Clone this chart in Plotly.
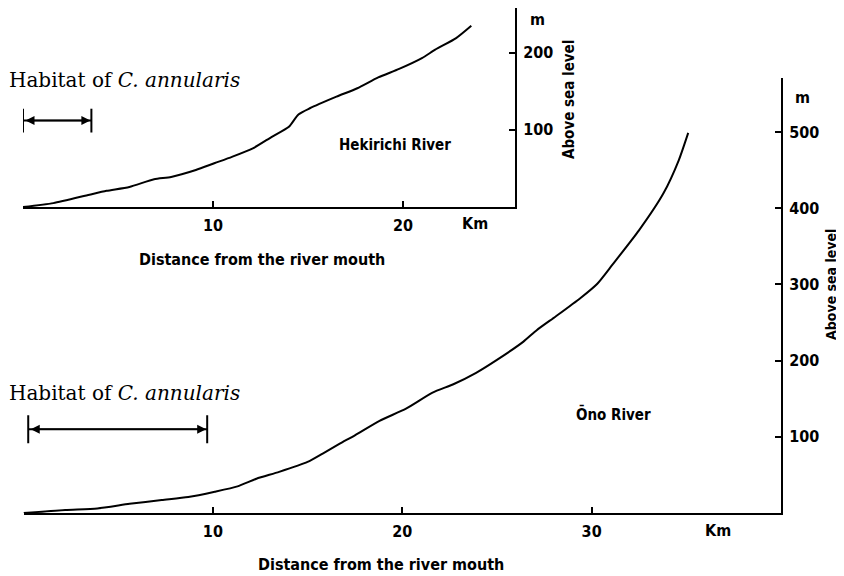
import plotly.graph_objects as go

# ---------------- data ----------------
hek_km = [0, 1.6, 3.5, 4.4, 5.6, 6.9, 7.8, 9.1, 10.1, 11.0, 12.1, 13.1, 14.0, 14.5,
          15.1, 16.5, 17.6, 18.7, 19.8, 21.0, 21.7, 22.8, 23.6]
hek_m = [0, 5, 16, 21, 26, 36, 39, 48, 57, 65, 76, 91, 104, 120,
         128, 143, 154, 168, 179, 193, 204, 219, 235]

ono_km = [0, 2.2, 3.9, 5.6, 7.3, 8.7, 10.1, 11.3, 12.3, 13.5, 15.0, 15.8, 16.7, 17.5,
          18.8, 20.2, 21.6, 22.7, 23.9, 25.0, 26.4, 27.1, 28.1, 29.4, 30.3, 31.1,
          32.5, 33.8, 34.6, 35.1]
ono_m = [0, 4, 6, 12, 17, 21, 28, 35, 45, 54, 67, 78, 91, 102,
         121, 137, 158, 169, 184, 201, 225, 240, 258, 282, 301, 326,
         371, 420, 463, 499]

hek_habitat_km = [0, 3.6]
hek_habitat_m = 112
ono_habitat_km = [0.25, 9.7]
ono_habitat_m = 110

hek_xticks = [10, 20]
hek_yticks = [100, 200]
ono_xticks = [10, 20, 30]
ono_yticks = [100, 200, 300, 400, 500]

habitat_label = "Habitat of <i>C. annularis</i>"
hek_name = "Hekirichi River"
ono_name = "Ōno River"
x_title = "Distance from the river mouth"
y_title = "Above sea level"

# ---------------- layout helpers ----------------
# the page body has an 8px margin, so the figure starts at (8, 8)
OFF = 8
W, H = 844 - OFF, 576 - OFF
def px(x):
    return (x - OFF) / W
def py(y):
    return min(1.0, max(0.0, 1 - (y - OFF) / H))

SANS = "Liberation Sans Narrow, DejaVu Sans Condensed, Arial Narrow, DejaVu Sans, sans-serif"
SERIF = "DejaVu Serif, Liberation Serif, serif"
BLACK = "#000000"

fig = go.Figure()

# curves
fig.add_trace(go.Scatter(x=hek_km, y=hek_m, mode="lines", xaxis="x", yaxis="y",
                         line=dict(color=BLACK, width=2, shape="spline", smoothing=0.6),
                         hoverinfo="skip", showlegend=False))
fig.add_trace(go.Scatter(x=ono_km, y=ono_m, mode="lines", xaxis="x2", yaxis="y2",
                         line=dict(color=BLACK, width=2, shape="spline", smoothing=0.6),
                         hoverinfo="skip", showlegend=False))

# habitat range bars (end markers)
fig.add_trace(go.Scatter(x=hek_habitat_km, y=[hek_habitat_m] * 2, mode="markers+lines",
                         xaxis="x", yaxis="y",
                         marker=dict(symbol="line-ns", size=17, line=dict(color=BLACK, width=2)),
                         line=dict(color=BLACK, width=2),
                         hoverinfo="skip", showlegend=False))
fig.add_trace(go.Scatter(x=ono_habitat_km, y=[ono_habitat_m] * 2, mode="markers+lines",
                         xaxis="x2", yaxis="y2",
                         marker=dict(symbol="line-ns", size=20, line=dict(color=BLACK, width=2)),
                         line=dict(color=BLACK, width=2),
                         hoverinfo="skip", showlegend=False))

tickfont = dict(family=SANS, size=16, color=BLACK, weight="bold")

axis_common = dict(showgrid=False, zeroline=False, showline=True, linecolor=BLACK,
                   linewidth=2, ticks="inside", ticklen=6, tickwidth=1.5,
                   tickcolor=BLACK, tickfont=tickfont, fixedrange=True)

fig.update_layout(
    width=W, height=H, autosize=False,
    margin=dict(l=0, r=0, t=0, b=0),
    paper_bgcolor="white", plot_bgcolor="rgba(0,0,0,0)",
    xaxis=dict(domain=[px(23), px(515)], range=[0, 25.9], anchor="y",
               tickvals=hek_xticks, ticklabelstandoff=3, **axis_common),
    yaxis=dict(domain=[py(207), 1.0], range=[0, 258], anchor="x", side="right",
               tickvals=hek_yticks, ticklabelstandoff=3, **axis_common),
    xaxis2=dict(domain=[px(23.5), px(781)], range=[0, 40], anchor="y2",
                tickvals=ono_xticks, ticklabelstandoff=3, **axis_common),
    yaxis2=dict(domain=[py(513), py(78)], range=[0, 571], anchor="x2", side="right",
                tickvals=ono_yticks, ticklabelstandoff=3, **axis_common),
)

ann = []
def text(x, y, s, size=13, font=SANS, angle=0, bold=True, xanchor="center"):
    f = dict(family=font, size=size, color=BLACK)
    if bold:
        f["weight"] = "bold"
    ann.append(dict(x=px(x), y=py(y), xref="paper", yref="paper", text=s,
                    showarrow=False, font=f, textangle=angle,
                    xanchor=xanchor, yanchor="middle", borderpad=0))

# habitat labels
text(8, 80, habitat_label, size=20, font=SERIF, bold=False, xanchor="left")
text(8, 393, habitat_label, size=20, font=SERIF, bold=False, xanchor="left")

# river names
text(395, 145, hek_name, size=15)
text(613, 414, ono_name, size=15)

# units
text(475, 224, "Km", size=16)
text(718, 530, "Km", size=16)
text(537, 20, "m", size=16)
text(802, 97, "m", size=16)

# axis titles
text(262, 259, x_title, size=16)
text(381, 564, x_title, size=16)
text(569, 100, y_title, size=15, angle=-90)
text(831, 285, y_title, size=14, angle=-90)

# arrowheads for habitat ranges
for xa, ya, xr, yr in [("x", "y", hek_habitat_km, hek_habitat_m),
                       ("x2", "y2", ono_habitat_km, ono_habitat_m)]:
    ann.append(dict(x=xr[1], y=yr, ax=xr[0], ay=yr, xref=xa, yref=ya,
                    axref=xa, ayref=ya, showarrow=True, text="",
                    arrowhead=2, arrowside="end+start", arrowsize=1.2,
                    arrowwidth=1.5, arrowcolor=BLACK, standoff=1, startstandoff=1))

fig.update_layout(annotations=ann)

fig.write_html("out.html")
